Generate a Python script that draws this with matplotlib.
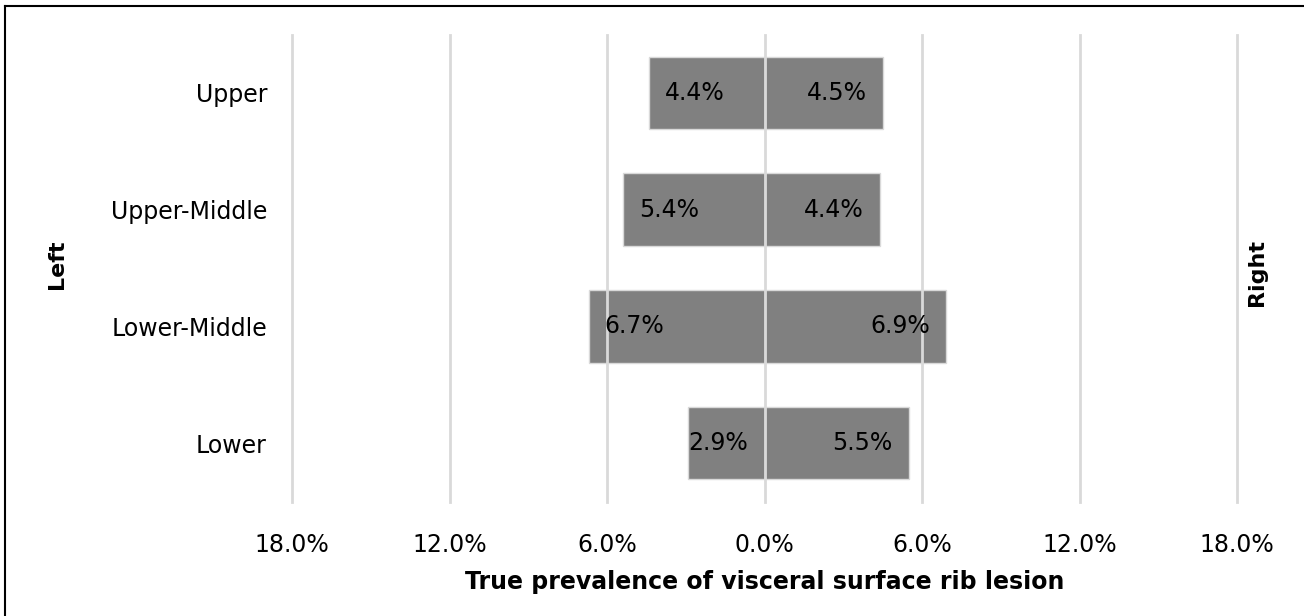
import matplotlib.pyplot as plt
from matplotlib.lines import Line2D

categories = ["Upper", "Upper-Middle", "Lower-Middle", "Lower"]
left_vals = [4.4, 5.4, 6.7, 2.9]
right_vals = [4.5, 4.4, 6.9, 5.5]
ticks = [-18, -12, -6, 0, 6, 12, 18]

W, H, DPI = 1304, 616, 100
fig = plt.figure(figsize=(W / DPI, H / DPI), dpi=DPI)
ax = fig.add_axes([292 / W, 1 - 501.5 / H, (1237 - 292) / W, (501.5 - 34.5) / H])

ypos = list(range(len(categories)))
bar_kw = dict(height=0.62, color="#808080", edgecolor="#d9d9d9", linewidth=1, zorder=2)
ax.barh(ypos, [-v for v in left_vals], **bar_kw)
ax.barh(ypos, right_vals, **bar_kw)

for y, v in zip(ypos, left_vals):
    pad = 16 if v > 3.5 else 0
    ax.annotate(f"{v:.1f}%", (-v, y), xytext=(pad, 0), textcoords="offset pixels",
                ha="left", va="center", fontsize=17, zorder=4)
for y, v in zip(ypos, right_vals):
    ax.annotate(f"{v:.1f}%", (v, y), xytext=(-16, 0), textcoords="offset pixels",
                ha="right", va="center", fontsize=17, zorder=4)

ax.set_xlim(-18, 18)
ax.set_ylim(len(categories) - 0.5, -0.5)
ax.set_xticks(ticks)
ax.set_xticklabels([f"{abs(t):.1f}%" for t in ticks])
ax.set_yticks(ypos)
ax.set_yticklabels(categories)
ax.grid(axis="x", color="#d9d9d9", linewidth=2, zorder=3)
for gl in ax.get_xgridlines():
    gl.set_clip_on(False)
ax.set_axisbelow(False)
for s in ax.spines.values():
    s.set_visible(False)
ax.tick_params(length=0, labelsize=17)
ax.tick_params(axis="x", pad=23)
ax.tick_params(axis="y", pad=18)
ax.set_xlabel("True prevalence of visceral surface rib lesion", fontsize=17,
              fontweight="bold", labelpad=9)

fig.text(57 / W, 1 - 264 / H, "Left", rotation=90, ha="center", va="center",
         fontsize=16, fontweight="bold")
fig.text(1257 / W, 1 - 273 / H, "Right", rotation=90, ha="center", va="center",
         fontsize=16, fontweight="bold")

# outer border (left and top visible in the reference)
fig.add_artist(Line2D([5 / W, 5 / W], [0, 1 - 6 / H], color="black", linewidth=1.5))
fig.add_artist(Line2D([5 / W, 1], [1 - 6 / H, 1 - 6 / H], color="black", linewidth=1.5))

fig.savefig("out.png", dpi=DPI)
